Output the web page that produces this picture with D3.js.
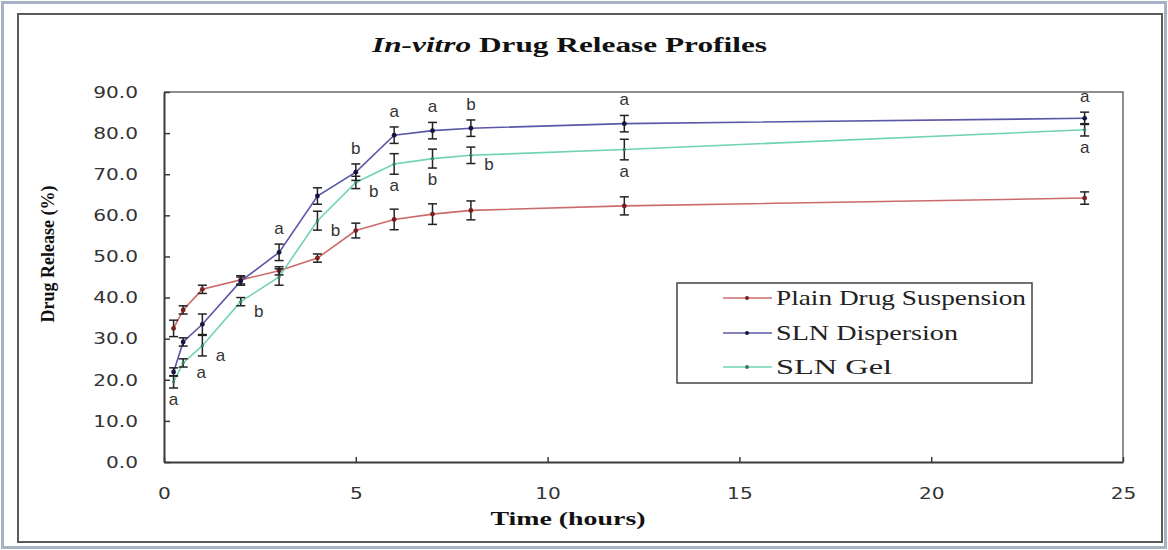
<!DOCTYPE html>
<html>
<head>
<meta charset="utf-8">
<script src="https://cdn.jsdelivr.net/npm/d3@7"></script>
<style>
  html, body { margin: 0; padding: 0; background: #fff; }
  svg { display: block; }
</style>
</head>
<body>
<svg id="chart" width="1168" height="550"></svg>
<script>
// Sampling times (hours)
const times = [0.25, 0.5, 1, 2, 3, 4, 5, 6, 7, 8, 12, 24];

// Mean cumulative release (%) and SD for each formulation
const plainMean = [32.5, 37.0, 42.0, 44.3, 46.5, 49.6, 56.3, 59.0, 60.3, 61.2, 62.3, 64.2];
const plainSD   = [2.0, 1.0, 1.0, 1.0, 1.0, 1.0, 1.8, 2.5, 2.5, 2.3, 2.2, 1.5];
const slnMean   = [21.9, 29.2, 33.5, 44.0, 51.0, 64.7, 70.5, 79.5, 80.6, 81.2, 82.3, 83.6];
const slnSD     = [1.0, 1.0, 2.5, 1.0, 2.0, 2.0, 2.0, 2.0, 2.0, 2.0, 2.0, 1.5];
const gelMean   = [19.5, 24.1, 28.3, 39.0, 45.0, 58.7, 68.0, 72.5, 73.8, 74.6, 76.0, 80.8];
const gelSD     = [1.5, 1.0, 2.5, 1.0, 2.0, 2.3, 1.5, 2.5, 2.3, 2.0, 2.5, 1.5];

const seriesNames  = ["Plain Drug Suspension", "SLN Dispersion", "SLN Gel"];
const seriesColors = ["#cc6b6b", "#5a58a6", "#6fd4b0"];
const markerColors = ["#7a1f1f", "#15153f", "#3c7a68"];

// Significance letters: series index, time, letter, placement
const sigSeries = [2, 2, 2, 2, 1, 2, 1, 2, 1, 2, 1, 2, 1, 2, 1, 2, 1, 2];
const sigTimes  = [0.25, 0.5, 1, 2, 3, 4, 5, 5, 6, 6, 7, 7, 8, 8, 12, 12, 24, 24];
const sigText   = ["a", "a", "a", "b", "a", "b", "b", "b", "a", "a", "a", "b", "b", "b", "a", "a", "a", "a"];
const sigPlace  = ["below", "right", "right", "right", "above", "right", "above", "right", "above", "below", "above", "below", "above", "right", "above", "below", "above", "below"];

const xTicks = [0, 5, 10, 15, 20, 25];
const yTicks = [0, 10, 20, 30, 40, 50, 60, 70, 80, 90];

const means = [plainMean, slnMean, gelMean];
const sds = [plainSD, slnSD, gelSD];

const svg = d3.select("#chart");
const W = 1168, H = 550;
const plot = { left: 164, right: 1123, top: 92, bottom: 462 };

const x = d3.scaleLinear().domain([0, 25]).range([plot.left, plot.right]);
const y = d3.scaleLinear().domain([0, 90]).range([plot.bottom, plot.top]);

// widen text horizontally by factor k
function stretch(sel, k) {
  sel.each(function () {
    const len = this.getComputedTextLength();
    d3.select(this).attr("textLength", len * k).attr("lengthAdjust", "spacingAndGlyphs");
  });
}
// fit text to a given width
function fit(sel, w) {
  sel.attr("textLength", w).attr("lengthAdjust", "spacingAndGlyphs");
}

const serif = "'Liberation Serif', 'Times New Roman', serif";

// frames
svg.append("rect").attr("x", 0).attr("y", 0).attr("width", W).attr("height", H).attr("fill", "#fff");
svg.append("rect").attr("x", 2.5).attr("y", 2.5).attr("width", W - 5).attr("height", H - 5)
  .attr("fill", "none").attr("stroke", "#a7b3c3").attr("stroke-width", 3);
svg.append("rect").attr("x", 18).attr("y", 14).attr("width", 1144).attr("height", 528)
  .attr("fill", "none").attr("stroke", "#5a5a5a").attr("stroke-width", 2);

// title
const title = svg.append("text").attr("x", 372).attr("y", 52)
  .style("font-family", serif)
  .style("font-size", "20px").style("font-weight", "bold").attr("fill", "#111");
title.append("tspan").style("font-style", "italic").text("In-vitro");
title.append("tspan").text(" Drug Release Profiles");
fit(title, 395);

// plot frame top/right
svg.append("path")
  .attr("d", `M${plot.left},${plot.top}H${plot.right}V${plot.bottom}`)
  .attr("fill", "none").attr("stroke", "#6a6a6a").attr("stroke-width", 1.5);

// axes
const yAxis = d3.axisLeft(y).tickValues(yTicks).tickFormat(d3.format(".1f"))
  .tickSizeInner(-6).tickSizeOuter(0).tickPadding(26);
const gy = svg.append("g").attr("transform", `translate(${plot.left},0)`).call(yAxis);

const xAxis = d3.axisBottom(x).tickValues(xTicks).tickFormat(d3.format("d"))
  .tickSizeInner(-5).tickSizeOuter(0).tickPadding(25);
const gx = svg.append("g").attr("transform", `translate(0,${plot.bottom})`).call(xAxis);

[gx, gy].forEach(g => {
  g.select(".domain").attr("stroke", "#3a3a3a").attr("stroke-width", 2);
  g.selectAll(".tick line").attr("stroke", "#3a3a3a").attr("stroke-width", 1.5);
  g.selectAll(".tick text").attr("fill", "#333")
    .style("font-family", "'DejaVu Sans', Verdana, sans-serif").style("font-size", "16.5px");
  stretch(g.selectAll(".tick text"), 1.22);
});

// axis titles
const xt = svg.append("text").attr("x", 568).attr("y", 525).attr("text-anchor", "middle")
  .style("font-family", serif)
  .style("font-size", "19px").style("font-weight", "bold").attr("fill", "#111")
  .text("Time (hours)");
fit(xt, 155);

svg.append("text").attr("transform", "translate(54,254) rotate(-90)").attr("text-anchor", "middle")
  .style("font-family", serif)
  .style("font-size", "18px").style("font-weight", "bold").attr("fill", "#111")
  .text("Drug Release (%)");

// series
const line = d3.line().x((d, i) => x(times[i])).y(d => y(d));
const gData = svg.append("g");
means.forEach((m, s) => {
  gData.append("path").datum(m).attr("d", line)
    .attr("fill", "none").attr("stroke", seriesColors[s]).attr("stroke-width", 1.6);
});

// error bars and markers
means.forEach((m, s) => {
  const g = gData.append("g");
  m.forEach((v, i) => {
    const cx = x(times[i]);
    const y1 = y(v + sds[s][i]), y0 = y(v - sds[s][i]);
    g.append("line").attr("x1", cx).attr("x2", cx).attr("y1", y1).attr("y2", y0)
      .attr("stroke", "#222").attr("stroke-width", 1.5);
    [y1, y0].forEach(yy => g.append("line").attr("x1", cx - 4.5).attr("x2", cx + 4.5)
      .attr("y1", yy).attr("y2", yy).attr("stroke", "#222").attr("stroke-width", 1.5));
    g.append("circle").attr("cx", cx).attr("cy", y(v)).attr("r", s === 2 ? 1.6 : 2.4)
      .attr("fill", markerColors[s]);
  });
});

// significance letters
const gSig = svg.append("g")
  .style("font-family", "'Liberation Sans', Arial, sans-serif").style("font-size", "17px")
  .attr("fill", "#333");
sigText.forEach((t, k) => {
  const s = sigSeries[k];
  const i = times.indexOf(sigTimes[k]);
  const v = means[s][i], sd = sds[s][i];
  const cx = x(times[i]);
  let tx = cx, ty;
  if (sigPlace[k] === "above") ty = y(v + sd) - 10;
  else if (sigPlace[k] === "below") ty = y(v - sd) + 17;
  else { tx = cx + 18; ty = y(v) + 15; }
  gSig.append("text").attr("x", tx).attr("y", ty).attr("text-anchor", "middle").text(t);
});

// legend
const lg = svg.append("g");
lg.append("rect").attr("x", 677).attr("y", 283).attr("width", 355).attr("height", 100)
  .attr("fill", "#fff").attr("stroke", "#444").attr("stroke-width", 1.5);
const rowY = [298, 333, 367];
const legendWidths = [250, 182, 116];
seriesNames.forEach((name, s) => {
  lg.append("line").attr("x1", 723).attr("x2", 772).attr("y1", rowY[s]).attr("y2", rowY[s])
    .attr("stroke", seriesColors[s]).attr("stroke-width", 1.6);
  lg.append("circle").attr("cx", 747).attr("cy", rowY[s]).attr("r", 2).attr("fill", markerColors[s]);
  const t = lg.append("text").attr("x", 776).attr("y", rowY[s] + 7)
    .style("font-family", serif)
    .style("font-size", "21px").attr("fill", "#222").text(name);
  fit(t, legendWidths[s]);
});
</script>
</body>
</html>
